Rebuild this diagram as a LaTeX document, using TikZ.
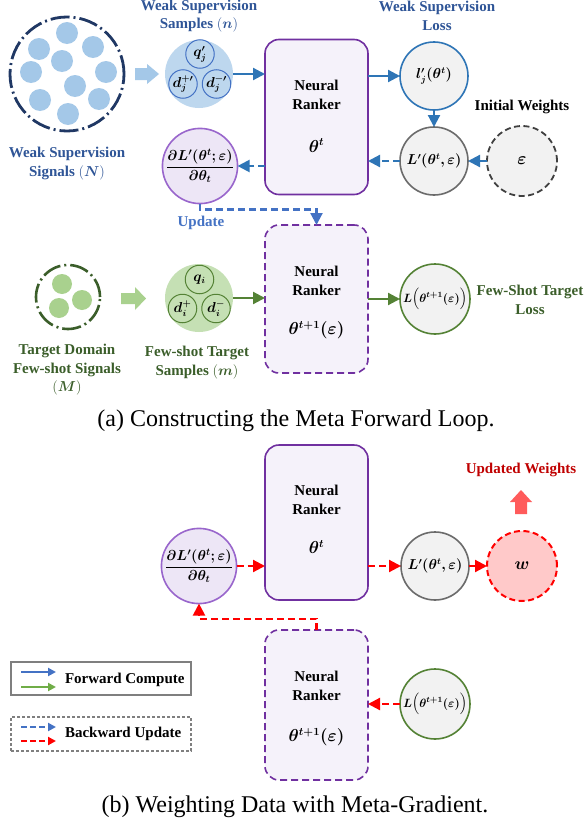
\documentclass[tikz,border=0pt]{standalone}
\usepackage{amsmath}
\usepackage{bm}
\usepackage[no-math]{fontspec}
\setmainfont{Liberation Serif}
\usetikzlibrary{arrows.meta,calc}
\definecolor{navy}{HTML}{203864}
\definecolor{wsblue}{HTML}{2F5597}
\definecolor{dotblue}{HTML}{A4C8E8}
\definecolor{sampblue}{HTML}{BDD7EE}
\definecolor{inblue}{HTML}{4472C4}
\definecolor{arrblue}{HTML}{2E75B6}
\definecolor{rpurple}{HTML}{7030A0}
\definecolor{rfill}{HTML}{F5F2FA}
\definecolor{gpurple}{HTML}{9966CC}
\definecolor{gfill}{HTML}{EDE6F6}
\definecolor{lgray}{HTML}{F2F2F2}
\definecolor{dgray}{HTML}{6B6B6B}
\definecolor{egray}{HTML}{404040}
\definecolor{gtext}{HTML}{3B5E2A}
\definecolor{gdot}{HTML}{A9D18E}
\definecolor{gsamp}{HTML}{C5E0B4}
\definecolor{gstroke}{HTML}{548235}
\definecolor{lgreen}{HTML}{70AD47}
\definecolor{legray}{HTML}{7F7F7F}
\definecolor{wfill}{HTML}{FFC9C9}
\definecolor{wtext}{HTML}{C00000}
\definecolor{bred}{HTML}{FF5B5B}
\begin{document}
\begin{tikzpicture}[x=1pt,y=-1pt,
  every node/.style={inner sep=0pt, outer sep=0pt},
  lbl/.style={font=\fontsize{15}{18.5}\selectfont\bfseries, align=center},
  mth/.style={font=\fontsize{13.5}{16}\selectfont},
  cnode/.style={circle, minimum size=68pt, line width=1.6pt},
  inc/.style={circle, minimum size=28.5pt, line width=1pt, font=\fontsize{13.5}{15}\selectfont},
  rankbox/.style={rectangle, rounded corners=14pt, minimum width=103pt, minimum height=155pt, draw=rpurple, fill=rfill, line width=1.6pt},
  tip/.style={-{Triangle[length=12pt,width=12pt]}},
  fwd/.style={tip, line width=2.2pt},
  bwd/.style={tip, line width=2.2pt, dash pattern=on 7pt off 4pt},
  dashdot/.style={dash pattern=on 19pt off 4pt on 2pt off 4pt},
  caption/.style={font=\fontsize{24}{28}\selectfont},
]
\useasboundingbox[fill=white] (0,0) rectangle (587,827);

% ---------------- (a) ----------------
% weak supervision signals
\node[circle, minimum size=114pt, draw=navy, line width=2.8pt, dashdot] (sig) at (67,74) {};
\foreach \i/\x/\y in {1/67/33, 2/39/49, 3/93/47, 4/62/61, 5/31/72, 6/106/72, 7/75/86, 8/40/100, 9/99/99, 10/68/114}
  \node[circle, minimum size=22pt, fill=dotblue] (dot\i) at (\x,\y) {};
\node[lbl, text=wsblue] (sigtxt) at (67,163.5) {Weak Supervision\\Signals $(\bm{N})$};
\fill[dotblue] (135,68) -- (147,68) -- (147,64) -- (159,74) -- (147,84) -- (147,80) -- (135,80) -- cycle;

% samples
\node[lbl, text=wsblue] (samptitle) at (199,16) {Weak Supervision\\Samples $(\bm{n})$};
\node[circle, minimum size=68pt, fill=sampblue] (samp) at (199,74) {};
\node[inc, draw=inblue] (qj) at (200,54) {$\bm{q'_j}$};
\node[inc, draw=inblue] (djp) at (183,84) {$\bm{d_j^{+\prime}}$};
\node[inc, draw=inblue] (djm) at (216.5,84) {$\bm{d_j^{-\prime}}$};

% ranker 1
\node[rankbox] (rank1) at (316.5,117) {};
\node[lbl] (r1a) at ($(rank1.north)+(0,55.5)$) {Neural\\Ranker};
\node[font=\fontsize{16}{18}\selectfont] (r1b) at ($(rank1.north)+(0,106)$) {$\bm{\theta^t}$};

% loss
\node[lbl, text=wsblue] (losstitle) at (437,16) {Weak Supervision\\Loss};
\node[cnode, draw=arrblue, fill=lgray, mth] (loss) at (434,76) {$\bm{l'_j(\theta^t)}$};
\node[cnode, draw=dgray, fill=lgray, mth] (Lp) at (434,161) {$\bm{L'(\theta^t,\varepsilon)}$};
\node[lbl] (initw) at (522,107) {Initial Weights};
\node[circle, minimum size=70pt, draw=egray, fill=lgray, line width=1.8pt, dash pattern=on 6pt off 3.5pt, font=\fontsize{18}{20}\selectfont] (eps) at (522,161) {$\bm{\varepsilon}$};

% gradient
\node[cnode, draw=gpurple, fill=gfill, font=\fontsize{14}{16}\selectfont] (grad) at (200,166) {$\dfrac{\bm{\partial L'(\theta^t;\varepsilon)}}{\bm{\partial\theta_t}}$};
\node[lbl, text=inblue] (upd) at (201,223) {Update};

% target signals
\node[circle, minimum size=64pt, draw=gtext, line width=2.6pt, dashdot] (tsig) at (68,297) {};
\foreach \i/\x/\y in {1/62/284, 2/82/300, 3/59/308}
  \node[circle, minimum size=20pt, fill=gdot] (gdot\i) at (\x,\y) {};
\node[lbl, text=gtext] (tsigtxt) at (67,370) {Target Domain\\Few-shot Signals\\$(\bm{M})$};
\fill[gdot] (121,293) -- (135,293) -- (135,287) -- (146,298.5) -- (135,310) -- (135,304) -- (121,304) -- cycle;

% few-shot samples
\node[circle, minimum size=68pt, fill=gsamp] (fsamp) at (199,298) {};
\node[inc, draw=gstroke] (qi) at (199.5,279.5) {$\bm{q_i}$};
\node[inc, draw=gstroke] (dip) at (182.5,308.5) {$\bm{d_i^{+}}$};
\node[inc, draw=gstroke] (dim) at (216,308.5) {$\bm{d_i^{-}}$};
\node[lbl, text=gtext] (fsamptxt) at (197,362.5) {Few-shot Target\\Samples $(\bm{m})$};

% ranker 2
\node[rankbox, dash pattern=on 7pt off 4pt, minimum height=148pt] (rank2) at (316.5,299) {};
\node[lbl] (r2a) at ($(rank2.north)+(0,56)$) {Neural\\Ranker};
\node[font=\fontsize{16}{18}\selectfont] (r2b) at ($(rank2.north)+(0,105)$) {$\bm{\theta^{t+1}(\varepsilon)}$};

\node[cnode, minimum size=70pt, draw=gstroke, fill=lgray, font=\fontsize{11.5}{13}\selectfont] (Lt) at (435,299) {$\bm{L\Big(\theta^{t+1}(\varepsilon)\Big)}$};
\node[lbl, text=gtext] (lttxt) at (530,300) {Few-Shot Target\\Loss};

% arrows (a)
\draw[fwd, draw=arrblue] (samp.east) -- (samp.east -| rank1.west);
\draw[fwd, draw=arrblue] (loss.west -| rank1.east) -- (loss.west);
\draw[fwd, draw=arrblue] (loss.south) -- (Lp.north);
\draw[bwd, draw=arrblue] (eps.west) -- (Lp.east);
\draw[bwd, draw=arrblue] (Lp.west) -- (Lp.west -| rank1.east);
\draw[bwd, draw=arrblue] (grad.east -| rank1.west) -- (grad.east);
\draw[bwd, draw=inblue] (grad.south) -- ++(0,6) -| (rank2.north);
\draw[fwd, draw=gstroke] (fsamp.east) -- (fsamp.east -| rank2.west);
\draw[fwd, draw=gstroke] (Lt.west -| rank2.east) -- (Lt.west);

\node[caption] (capa) at (296,421) {(a) Constructing the Meta Forward Loop.};

% ---------------- (b) ----------------
\node[rankbox] (rankb1) at (316.5,522.5) {};
\node[lbl] (rb1a) at ($(rankb1.north)+(0,55)$) {Neural\\Ranker};
\node[font=\fontsize{16}{18}\selectfont] (rb1b) at ($(rankb1.north)+(0,102)$) {$\bm{\theta^t}$};

\node[cnode, draw=gpurple, fill=gfill, font=\fontsize{14}{16}\selectfont] (gradb) at (199,566) {$\dfrac{\bm{\partial L'(\theta^t;\varepsilon)}}{\bm{\partial\theta_t}}$};
\node[cnode, draw=dgray, fill=lgray, mth] (Lpb) at (435,566) {$\bm{L'(\theta^t,\varepsilon)}$};
\node[circle, minimum size=70pt, draw=red, fill=wfill, line width=2pt, dash pattern=on 6pt off 3.5pt, font=\fontsize{17}{20}\selectfont] (w) at (522,566) {$\bm{w}$};
\node[lbl, text=wtext] (updw) at (521,470) {Updated Weights};
\fill[bred] (515,514) -- (515,502) -- (510,502) -- (521,490) -- (532,502) -- (527,502) -- (527,514) -- cycle;

\node[rankbox, dash pattern=on 7pt off 4pt, minimum height=150pt] (rankb2) at (316.5,705) {};
\node[lbl] (rb2a) at ($(rankb2.north)+(0,56)$) {Neural\\Ranker};
\node[font=\fontsize{16}{18}\selectfont] (rb2b) at ($(rankb2.north)+(0,107)$) {$\bm{\theta^{t+1}(\varepsilon)}$};
\node[cnode, minimum size=70pt, draw=gstroke, fill=lgray, font=\fontsize{11.5}{13}\selectfont] (Ltb) at (435,704) {$\bm{L\Big(\theta^{t+1}(\varepsilon)\Big)}$};

\draw[bwd, draw=red] (gradb.east) -- (gradb.east -| rankb1.west);
\draw[bwd, draw=red] (Lpb.west -| rankb1.east) -- (Lpb.west);
\draw[bwd, draw=red] (Lpb.east) -- (w.west);
\draw[bwd, draw=red] (Ltb.west) -- (Ltb.west -| rankb2.east);
\draw[bwd, draw=red] (rankb2.north) -- ++(0,-11) -| (gradb.south);

% legend
\node[draw=legray, line width=1.4pt, minimum width=180pt, minimum height=33pt] (leg1) at (101,678.5) {};
\node[draw=legray, line width=1.2pt, dash pattern=on 3pt off 2pt, minimum width=180pt, minimum height=34pt] (leg2) at (101,734) {};
\coordinate (la1) at (21,672); \coordinate (lb1) at (56,672);
\coordinate (la2) at (21,687); \coordinate (lb2) at (56,687);
\coordinate (la3) at (21,727); \coordinate (lb3) at (56,727);
\coordinate (la4) at (21,741); \coordinate (lb4) at (56,741);
\draw[-{Triangle[length=8pt,width=8pt]}, line width=2pt, draw=inblue] (la1) -- (lb1);
\draw[-{Triangle[length=8pt,width=8pt]}, line width=2pt, draw=lgreen] (la2) -- (lb2);
\draw[-{Triangle[length=8pt,width=8pt]}, line width=2pt, draw=inblue, dash pattern=on 6pt off 3pt] (la3) -- (lb3);
\draw[-{Triangle[length=8pt,width=8pt]}, line width=2pt, draw=red, dash pattern=on 6pt off 3pt] (la4) -- (lb4);
\node[lbl, anchor=west] (legt1) at (65,680) {Forward Compute};
\node[lbl, anchor=west] (legt2) at (65,734) {Backward Update};

\node[caption] (capb) at (295,807) {(b) Weighting Data with Meta-Gradient.};
\end{tikzpicture}
\end{document}
